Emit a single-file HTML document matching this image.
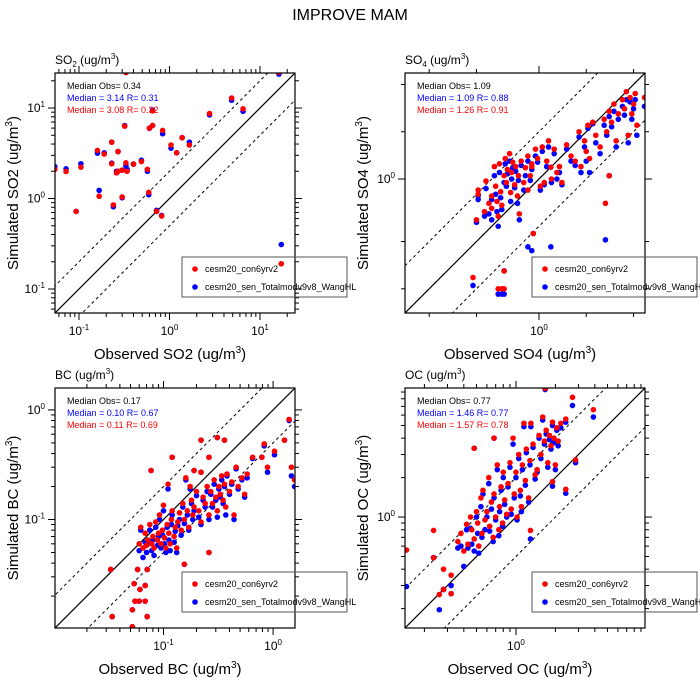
<!DOCTYPE html>
<html><head><meta charset="utf-8"><style>
html,body{margin:0;padding:0;background:#fff;width:700px;height:700px;overflow:hidden;}
svg{display:block;font-family:"Liberation Sans",Arial,sans-serif;}
</style></head><body>
<svg id="chart" width="700" height="700" viewBox="0 0 700 700" xmlns="http://www.w3.org/2000/svg">
<rect x="0" y="0" width="700" height="700" fill="#fff"/>
<text x="350" y="20" text-anchor="middle" font-size="16">IMPROVE MAM</text>
</svg>
<script>
// ---- SO2 data ----
const so2Obs  = [0.054,0.072,0.105,0.093,0.16,0.167,0.19,0.23,0.23,0.24,0.27,0.26,0.27,0.30,0.30,0.32,0.33,0.34,0.33,0.40,0.49,0.57,0.59,0.60,0.65,0.65,0.72,0.82,0.84,1.04,1.2,1.38,1.66,2.77,4.86,6.5,16.2,17.2];
const so2Red  = [2.1,1.99,2.22,0.72,3.4,1.06,3.1,4.2,2.42,0.85,3.3,1.92,2.0,2.06,1.04,6.3,2.48,2.0,24.7,2.4,2.56,2.1,1.17,6.0,6.4,9.3,0.72,0.64,5.65,3.9,3.2,4.7,3.9,8.7,12.9,9.8,24.8,0.19];
const so2Blue = [2.25,2.13,2.42,0.72,3.17,1.23,3.2,4.2,2.46,0.81,3.3,2.0,2.0,2.06,1.02,6.4,2.3,2.1,24.7,2.4,2.65,2.0,1.1,5.95,6.4,9.5,0.74,0.65,5.2,3.6,3.2,4.7,4.2,8.4,12.2,9.2,23.7,0.31];
// ---- SO4 data ----
const so4Obs  = [0.38,0.55,0.58,0.60,0.60,0.92,0.85,0.90,1.19,2.65,2.8,0.40,0.41,0.41,0.45,0.46,0.48,0.50,0.50,0.52,0.53,0.54,0.55,0.56,0.57,0.58,0.60,0.61,0.62,0.63,0.65,0.66,0.67,0.68,0.70,0.71,0.73,0.74,0.75,0.77,0.80,0.82,0.85,0.88,0.90,0.95,0.98,1.02,1.05,1.08,1.12,1.15,1.20,1.25,1.30,1.35,1.40,1.50,1.60,1.70,1.80,1.85,1.95,2.00,2.05,2.10,2.20,2.30,2.45,2.60,2.70,2.80,2.90,3.00,3.10,3.20,3.40,3.50,3.60,3.70,3.80,3.90,4.00,4.10,4.70,4.20];
const so4Red  = [0.236,0.20,0.20,0.20,0.26,0.45,0.85,1.2,1.19,0.70,1.05,0.55,0.85,0.80,0.62,0.97,0.70,0.78,0.65,1.20,0.90,0.72,0.58,1.25,0.83,0.68,1.05,1.35,0.95,1.15,1.45,0.82,1.10,1.28,0.92,1.20,0.78,1.05,0.60,1.30,0.95,1.18,1.40,1.05,1.25,1.55,1.35,0.90,1.60,0.95,1.30,1.75,1.00,1.55,1.10,1.20,0.95,1.65,1.40,1.30,2.00,1.20,1.75,1.50,2.20,1.35,2.30,1.90,1.60,2.40,2.00,2.70,2.30,3.00,1.75,2.60,3.20,2.80,3.60,1.90,3.30,2.60,3.00,3.50,3.30,2.20];
const so4Blue = [0.21,0.185,0.185,0.185,0.26,0.45,0.37,0.35,0.37,0.41,1.05,0.53,0.74,0.78,0.58,0.87,0.60,0.74,0.55,1.05,0.80,0.62,0.50,1.10,0.76,0.64,0.95,1.25,0.90,1.08,1.30,0.72,1.00,1.18,0.88,1.12,0.70,0.98,0.55,1.22,0.85,1.05,1.30,0.98,1.15,1.40,1.28,0.85,1.50,0.92,1.20,1.60,0.95,1.45,1.00,1.10,0.92,1.55,1.30,1.22,1.85,1.10,1.60,1.30,2.10,1.10,2.25,1.70,1.45,2.20,1.90,2.50,2.15,2.70,1.60,2.40,2.90,2.55,3.20,1.70,3.10,2.40,2.80,3.20,2.90,1.90];
// ---- BC data ----
const bcObs  = [0.033,0.077,0.054,0.055,0.052,0.052,0.034,0.071,0.060,0.068,0.068,0.061,0.058,0.071,0.155,0.26,0.22,0.31,0.36,0.26,0.12,0.19,0.22,1.4,1.27,1.03,0.83,0.65,0.79,0.89,1.47,1.57,
 0.060,0.062,0.065,0.068,0.070,0.072,0.075,0.078,0.080,0.082,0.085,0.088,0.090,0.092,0.095,0.098,0.100,0.102,0.105,0.108,0.110,0.112,0.115,0.118,0.120,0.125,0.128,0.132,0.135,0.140,0.145,0.150,0.155,0.160,0.165,0.170,0.175,0.180,0.185,0.190,0.200,0.210,0.220,0.230,0.240,0.250,0.260,0.270,0.280,0.290,0.300,0.310,0.320,0.330,0.340,0.350,0.360,0.370,0.380,0.400,0.420,0.440,0.460,0.480,0.520,0.550,0.580];
const bcRed  = [0.035,0.28,0.026,0.018,0.015,0.0105,0.013,0.013,0.018,0.018,0.025,0.023,0.035,0.035,0.039,0.05,0.53,0.56,0.53,0.37,0.37,0.28,0.27,0.82,0.53,0.42,0.49,0.37,0.37,0.30,0.30,0.23,
 0.060,0.085,0.055,0.075,0.058,0.065,0.090,0.060,0.070,0.055,0.095,0.065,0.075,0.110,0.060,0.080,0.135,0.068,0.055,0.090,0.210,0.075,0.060,0.100,0.120,0.070,0.085,0.055,0.095,0.115,0.080,0.140,0.100,0.240,0.120,0.085,0.200,0.150,0.110,0.130,0.180,0.120,0.095,0.160,0.140,0.200,0.110,0.180,0.140,0.230,0.160,0.120,0.200,0.170,0.250,0.150,0.210,0.130,0.260,0.180,0.220,0.110,0.300,0.200,0.240,0.170,0.260];
const bcBlue = [0.035,0.28,0.026,0.018,0.015,0.0105,0.013,0.013,0.018,0.018,0.025,0.023,0.035,0.035,0.039,0.05,0.53,0.56,0.53,0.37,0.37,0.28,0.27,0.80,0.53,0.39,0.47,0.36,0.37,0.27,0.25,0.20,
 0.052,0.080,0.045,0.062,0.050,0.060,0.080,0.052,0.065,0.047,0.085,0.058,0.070,0.100,0.055,0.072,0.120,0.060,0.050,0.085,0.190,0.065,0.052,0.090,0.110,0.062,0.078,0.050,0.088,0.100,0.072,0.130,0.092,0.230,0.110,0.080,0.190,0.140,0.100,0.120,0.165,0.105,0.090,0.150,0.130,0.180,0.100,0.170,0.130,0.210,0.150,0.105,0.190,0.160,0.230,0.140,0.200,0.110,0.250,0.170,0.210,0.100,0.290,0.190,0.230,0.160,0.240];
// ---- OC data ----
const ocObs  = [0.146,0.235,0.235,0.26,0.28,0.28,0.32,0.32,0.48,0.68,1.67,2.7,3.9,1.29,2.4,2.85,1.9,
 0.36,0.38,0.40,0.42,0.43,0.45,0.46,0.48,0.50,0.51,0.52,0.54,0.55,0.56,0.58,0.60,0.62,0.63,0.65,0.67,0.68,0.70,0.72,0.74,0.75,0.77,0.79,0.80,0.82,0.85,0.87,0.90,0.92,0.95,0.97,1.00,1.02,1.05,1.08,1.10,1.12,1.15,1.18,1.20,1.25,1.28,1.30,1.35,1.40,1.45,1.50,1.55,1.60,1.65,1.70,1.75,1.80,1.85,1.90,1.95,2.00,2.05,2.10,2.20,2.40];
const ocRed  = [0.56,0.79,0.49,0.256,0.40,0.28,0.26,0.36,3.35,4.0,9.6,8.2,6.6,0.79,1.63,2.73,1.86,
 0.65,0.75,0.55,0.88,0.62,1.00,0.80,0.68,1.10,0.90,0.60,1.40,0.75,1.60,0.95,1.10,2.00,0.85,1.30,0.70,1.50,1.00,2.50,0.80,1.20,1.70,0.90,2.20,1.35,1.05,1.80,2.60,1.15,4.00,1.50,2.20,1.00,3.00,1.60,1.20,2.50,5.20,1.90,3.30,1.40,2.70,5.20,3.60,2.10,2.30,4.20,3.00,5.80,3.80,4.60,2.60,4.20,3.50,5.30,4.00,2.50,4.80,3.80,5.20,5.60];
const ocBlue = [0.295,0.49,0.49,0.196,0.28,0.28,0.26,0.30,3.35,4.0,9.4,7.1,5.8,0.68,1.52,2.6,1.72,
 0.58,0.60,0.42,0.80,0.58,0.82,0.62,0.55,1.00,0.75,0.53,1.20,0.70,1.50,0.80,1.00,1.80,0.78,1.15,0.65,1.40,0.95,2.30,0.72,1.10,1.60,0.85,2.00,1.25,1.00,1.70,2.40,1.05,3.60,1.40,2.00,0.95,2.80,1.45,1.10,2.30,4.90,1.75,3.10,1.30,2.50,4.90,3.40,1.95,2.20,4.00,2.80,5.50,3.60,4.30,2.40,3.90,3.30,5.00,3.70,2.30,4.60,3.50,4.80,5.30];
// ---- tick labels ----
const so2TickExps = [-1,0,1];
const so4TickExps = [0];
const bcTickExps = [-1,0];
const ocTickExps = [0];

const NS = "http://www.w3.org/2000/svg";
const svg = document.getElementById('chart');
function mk(tag, attrs, parent){
  const e = document.createElementNS(NS, tag);
  for (const k in attrs) e.setAttribute(k, attrs[k]);
  (parent||svg).appendChild(e);
  return e;
}
const S = 240;
function panel(cfg){
  const {px, py, lo, hi, id} = cfg;
  const g = mk('g', {});
  
  
  const sx = v => px + (Math.log10(v) - lo) / (hi - lo) * S;
  const sy = v => py + S - (Math.log10(v) - lo) / (hi - lo) * S;
  const cp = mk('clipPath', {id: 'clip-' + id}, g);
  mk('rect', {x: px, y: py, width: S, height: S}, cp);
  const tg = mk('g', {stroke: '#000', 'stroke-width': 1}, g);
  
  
  for (let d = Math.floor(lo) - 1; d <= Math.ceil(hi); d++){
    const mults = [1].concat(cfg.minors);
    for (const m of mults){
      const v = m * Math.pow(10, d);
      const lv = Math.log10(v);
      if (lv < lo - 1e-6 || lv > hi + 1e-6) continue;
      const L = m === 1 ? 7 : 4;
      const x = sx(v), y = sy(v);
      mk('line', {x1: x, y1: py + S, x2: x, y2: py + S + L}, tg);
      mk('line', {x1: x, y1: py, x2: x, y2: py - L}, tg);
      mk('line', {x1: px, y1: y, x2: px - L, y2: y}, tg);
      mk('line', {x1: px + S, y1: y, x2: px + S + L, y2: y}, tg);
    }
  }
  for (const e of cfg.tickExps){
    const v = Math.pow(10, e);
    const xl = mk('text', {x: sx(v), y: py + S + 22, 'text-anchor': 'middle', 'font-size': 12}, g);
    
    
    xl.innerHTML = '10<tspan dy="-5" font-size="8">' + e + '</tspan>';
    const yl = mk('text', {x: px - 10, y: sy(v) + 4, 'text-anchor': 'end', 'font-size': 12}, g);
    
    
    yl.innerHTML = '10<tspan dy="-5" font-size="8">' + e + '</tspan>';
  }
  const lg = mk('g', {'clip-path': 'url(#clip-' + id + ')', stroke: '#000'}, g);
  
  
  const a = Math.pow(10, lo - 1), b = Math.pow(10, hi + 1);
  mk('line', {x1: sx(a), y1: sy(a), x2: sx(b), y2: sy(b), 'stroke-width': 1.2}, lg);
  mk('line', {x1: sx(a), y1: sy(2*a), x2: sx(b), y2: sy(2*b), 'stroke-width': 1, 'stroke-dasharray': '3,3'}, lg);
  mk('line', {x1: sx(a), y1: sy(a/2), x2: sx(b), y2: sy(b/2), 'stroke-width': 1, 'stroke-dasharray': '3,3'}, lg);
  const pg = mk('g', {'clip-path': 'url(#clip-' + id + ')'}, g);
  
  
  cfg.obs.forEach((o, i) => {
    const c = mk('circle', {cx: sx(o), cy: sy(cfg.blue[i]), r: 2.8, fill: '#0000ff'}, pg);
    
    
  });
  cfg.obs.forEach((o, i) => {
    const c = mk('circle', {cx: sx(o), cy: sy(cfg.red[i]), r: 2.8, fill: '#ff0000'}, pg);
    
    
  });
  const fr = mk('rect', {x: px, y: py, width: S, height: S, fill: 'none', stroke: '#000', 'stroke-width': 1.2}, g);
  
  
  const pt = mk('text', {x: px, y: py - 9, 'font-size': 12}, g);
  
  
  pt.innerHTML = cfg.title;
  const xt = mk('text', {x: px + S/2 - 5, y: py + S + 46, 'text-anchor': 'middle', 'font-size': 15}, g);
  
  
  xt.innerHTML = 'Observed ' + cfg.sp + ' (ug/m<tspan dy="-6" font-size="10">3</tspan><tspan dy="6">)</tspan>';
  const yt = mk('text', {x: 0, y: 0, 'text-anchor': 'middle', 'font-size': 15, transform: 'translate(' + (px - 37) + ',' + (py + S/2) + ') rotate(-90)'}, g);
  
  
  yt.innerHTML = 'Simulated ' + cfg.sp + ' (ug/m<tspan dy="-6" font-size="10">3</tspan><tspan dy="6">)</tspan>';
  const cols = ['#000', '#0000ff', '#ff0000'];
  cfg.stats.forEach((s, i) => {
    const t = mk('text', {x: px + 12, y: py + 16 + i * 12, 'font-size': 9, fill: cols[i]}, g);
    
    
    t.textContent = s;
  });
  const lgd = mk('g', {}, g);
  
  
  mk('rect', {x: px + 127, y: py + 184, width: 165, height: 40, fill: 'none', stroke: '#555', 'stroke-width': 1}, lgd);
  const ent = [['cesm20_con6yrv2', '#ff0000'], ['cesm20_sen_Totalmodv9v8_WangHL', '#0000ff']];
  ent.forEach((e, i) => {
    const yy = py + 196 + i * 18;
    const d = mk('circle', {cx: px + 140, cy: yy, r: 2.8, fill: e[1]}, lgd);
    
    
    const t = mk('text', {x: px + 150, y: yy + 3, 'font-size': 9}, lgd);
    
    
    t.textContent = e[0];
  });
}
const sub = (a, b) => a + '<tspan dy="3" font-size="8">' + b + '</tspan><tspan dy="-3"> (ug/m</tspan><tspan dy="-5" font-size="8">3</tspan><tspan dy="5">)</tspan>';
panel({id: 'so2', px: 55, py: 73, lo: -1.265, hi: 1.387, minors: [2,3,4,5,6,7,8,9], tickExps: so2TickExps,
  obs: so2Obs, red: so2Red, blue: so2Blue, sp: 'SO2', title: sub('SO', '2'),
  stats: ['Median Obs= 0.34', 'Median = 3.14 R= 0.31', 'Median = 3.08 R= 0.32']});
panel({id: 'so4', px: 405, py: 73, lo: -0.853, hi: 0.675, minors: [2,4], tickExps: so4TickExps,
  obs: so4Obs, red: so4Red, blue: so4Blue, sp: 'SO4', title: sub('SO', '4'),
  stats: ['Median Obs= 1.09', 'Median = 1.09 R= 0.88', 'Median = 1.26 R= 0.91']});
panel({id: 'bc', px: 55, py: 388, lo: -1.99, hi: 0.2, minors: [2,3,4,5,6,7,8,9], tickExps: bcTickExps,
  obs: bcObs, red: bcRed, blue: bcBlue, sp: 'BC', title: 'BC (ug/m<tspan dy="-5" font-size="8">3</tspan><tspan dy="5">)</tspan>',
  stats: ['Median Obs= 0.17', 'Median = 0.10 R= 0.67', 'Median = 0.11 R= 0.69']});
panel({id: 'oc', px: 405, py: 388, lo: -0.847, hi: 0.985, minors: [2,3,4,5,6,7,8,9], tickExps: ocTickExps,
  obs: ocObs, red: ocRed, blue: ocBlue, sp: 'OC', title: 'OC (ug/m<tspan dy="-5" font-size="8">3</tspan><tspan dy="5">)</tspan>',
  stats: ['Median Obs= 0.77', 'Median = 1.46 R= 0.77', 'Median = 1.57 R= 0.78']});
</script>
</body></html>
